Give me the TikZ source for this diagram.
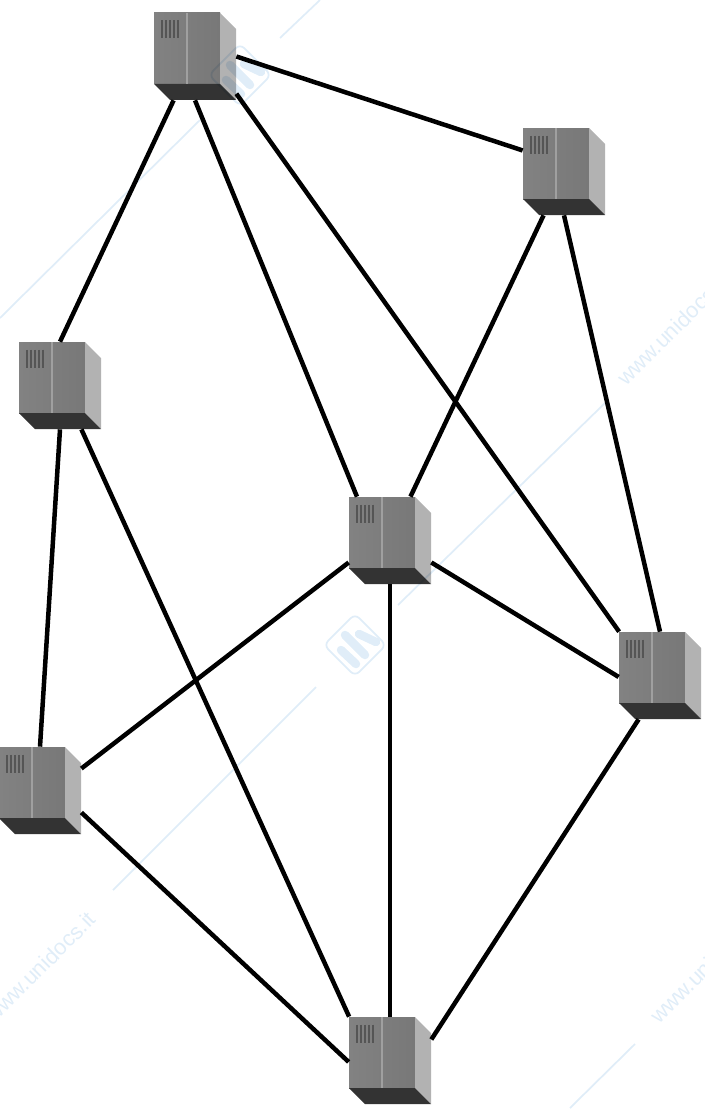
\documentclass[tikz,border=0pt]{standalone}
\usepackage{fontspec}
\setmainfont{Liberation Sans}
\begin{document}
\begin{tikzpicture}[x=0.02cm,y=-0.02cm]
    \definecolor{markblue}{RGB}{224,237,248};
    \definecolor{panelgray}{RGB}{130,130,130};
    \definecolor{panelshade}{RGB}{120,120,120};
    \definecolor{sidegray}{RGB}{178,178,178};
    \definecolor{basegray}{RGB}{51,51,51};
    \definecolor{seamgray}{RGB}{160,160,160};
    \definecolor{ventgray}{RGB}{85,85,85};
\tikzset{
  serverbox/.style={draw=none,shape=rectangle,inner sep=0pt,minimum width=1.64cm,minimum height=1.74cm},
  link/.style={draw=black,line width=0.09cm},
  markline/.style={draw=markblue,line width=0.035cm},
  marktext/.style={text=markblue,font=\fontsize{12.5}{12.5}\selectfont,rotate=45,inner sep=0pt},
  markstroke/.style={draw=markblue,line width=0.17cm,line cap=round}
}
\useasboundingbox (0,0) rectangle (705,1115);
% servers
\foreach \nm/\cx/\cy in {srvA/195/56.5,srvB/564/171.5,srvC/60/385.5,srvD/390/540.5,srvE/660/675.5,srvF/40/790.5,srvG/390/1060.5} {
  \node [serverbox] (\nm) at (\cx,\cy) {};
  \begin{scope}[shift={(\cx,\cy)}]
    \shade [left color=panelgray,right color=panelshade] (-41,-43.5) rectangle (25,27.5);
    \fill [sidegray] (25,-43.5)--(41,-27.5)--(41,43.5)--(25,27.5)--cycle;
    \fill [basegray] (-41,27.5)--(25,27.5)--(41,43.5)--(-25,43.5)--cycle;
    \draw [seamgray,line width=0.03cm] (-8,-43.5)--(-8,27.5);
    \foreach \v in {-33,-29,-25,-21,-17} {
      \draw [ventgray,line width=0.025cm] (\v,-36)--(\v,-18);
    }
  \end{scope}
}
% links
\draw [link] (srvA.0)--(srvB.153);
\draw [link] (srvA.244)--(srvC.90);
\draw [link] (srvA.270)--(srvD.127);
\draw [link] (srvA.318)--(srvE.133);
\draw [link] (srvB.245)--(srvD.65);
\draw [link] (srvB.270)--(srvE.90);
\draw [link] (srvC.270)--(srvF.90);
\draw [link] (srvC.296)--(srvG.133);
\draw [link] (srvD.208)--(srvF.28);
\draw [link] (srvD.332)--(srvE.182);
\draw [link] (srvD.270)--(srvG.90);
\draw [link] (srvF.332)--(srvG.182);
\draw [link] (srvE.244)--(srvG.27);
% watermark
\begin{scope}[blend mode=multiply]
\draw [markline] (280,38)--(320,0);
\draw [markline] (0,318)--(200,120);
\draw [markline] (398,605)--(605,403);
\draw [markline] (113,890)--(316,687);
\draw [markline] (570,1108)--(635,1044);
\node [marktext] (markA) at (40,967) {www.unidocs.it};
\node [marktext] (markB) at (672,330) {www.unidocs.it};
\node [marktext] (markC) at (705,968) {www.unidocs.it};
\foreach \mx/\my in {355/645,240/75} {
  \begin{scope}[shift={(\mx,\my)}]
    \draw [draw=markblue,line width=0.035cm,rounded corners=0.12cm,rotate=45] (-22,-22) rectangle (22,22);
    \draw [markstroke] (-14,5)--(1,19);
    \draw [markstroke] (-10,-10)--(10,10);
    \draw [markstroke] (4,-11)--(21,-3);
  \end{scope}
}
\end{scope}
\end{tikzpicture}
\end{document}
